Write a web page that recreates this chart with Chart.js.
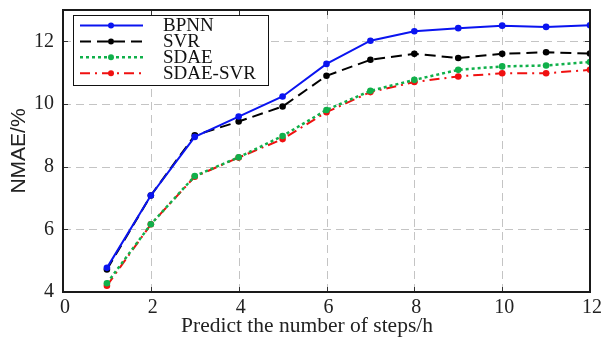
<!DOCTYPE html>
<html>
<head>
<meta charset="utf-8">
<script src="https://cdn.jsdelivr.net/npm/chart.js@4"></script>
<style>
  html, body { margin: 0; padding: 0; background: #fff; }
  #wrap { width: 604px; height: 339px; }
</style>
</head>
<body>
<div id="wrap"><canvas id="nmaeChart"></canvas></div>
<script>
const steps = [1, 2, 3, 4, 5, 6, 7, 8, 9, 10, 11, 12];
const bpnn = [4.77, 7.08, 8.95, 9.6, 10.24, 11.28, 12.02, 12.32, 12.42, 12.5, 12.46, 12.51];
const svr = [4.72, 7.08, 9.0, 9.44, 9.92, 10.9, 11.41, 11.6, 11.47, 11.6, 11.65, 11.61];
const sdae = [4.28, 6.16, 7.7, 8.3, 8.98, 9.81, 10.42, 10.77, 11.09, 11.2, 11.23, 11.34];
const sdaeSvr = [4.2, 6.16, 7.68, 8.29, 8.88, 9.74, 10.38, 10.7, 10.88, 10.98, 10.98, 11.09];
const xTicks = [0, 2, 4, 6, 8, 10, 12];
const yTicks = [4, 6, 8, 10, 12];
const xTitle = 'Predict the number of steps/h';

const toPoints = (ys) => ys.map((y, i) => ({ x: steps[i], y: y }));

// dashed grid under the lines
const gridPlugin = {
    id: 'dashGrid',
    beforeDatasetsDraw(chart) {
        const ctx = chart.ctx;
        const a = chart.chartArea;
        const xs = chart.scales.x, ys = chart.scales.y;
        ctx.save();
        ctx.strokeStyle = '#c4c4c4';
        ctx.lineWidth = 1;
        ctx.setLineDash([8, 5]);
        ctx.beginPath();
        xTicks.slice(1, -1).forEach(v => {
            const x = Math.round(xs.getPixelForValue(v)) + 0.5;
            ctx.moveTo(x, a.bottom); ctx.lineTo(x, a.top);
        });
        yTicks.slice(1).forEach(v => {
            const y = Math.round(ys.getPixelForValue(v)) + 0.5;
            ctx.moveTo(a.left, y); ctx.lineTo(a.right, y);
        });
        ctx.stroke();
        ctx.restore();
    }
};

// frame, inward ticks, x title and the boxed legend inside the plot
const framePlugin = {
    id: 'frame',
    afterDraw(chart) {
        const ctx = chart.ctx;
        const a = chart.chartArea;
        const xs = chart.scales.x, ys = chart.scales.y;
        ctx.save();
        ctx.strokeStyle = '#333';
        ctx.lineWidth = 1;
        ctx.setLineDash([]);
        ctx.beginPath();
        yTicks.forEach(v => {
            const y = Math.round(ys.getPixelForValue(v)) + 0.5;
            ctx.moveTo(a.left, y); ctx.lineTo(a.left + 5, y);
            ctx.moveTo(a.right, y); ctx.lineTo(a.right - 5, y);
        });
        xTicks.forEach(v => {
            const x = Math.round(xs.getPixelForValue(v)) + 0.5;
            ctx.moveTo(x, a.bottom); ctx.lineTo(x, a.bottom - 5);
            ctx.moveTo(x, a.top); ctx.lineTo(x, a.top + 5);
        });
        ctx.stroke();
        ctx.lineWidth = 2;
        ctx.strokeStyle = '#1a1a1a';
        ctx.strokeRect(a.left, a.top, a.right - a.left, a.bottom - a.top);

        // x axis title sits a little left of the plot centre in the original
        ctx.fillStyle = '#222';
        ctx.font = '21.5px "Liberation Serif", serif';
        ctx.textAlign = 'center';
        ctx.textBaseline = 'alphabetic';
        ctx.fillText(xTitle, 307, 332);
        ctx.textAlign = 'left';

        // legend
        const bx = a.left + 10, by = a.top + 5, bw = 195, bh = 70;
        ctx.fillStyle = '#fff';
        ctx.fillRect(bx, by, bw, bh);
        ctx.lineWidth = 1;
        ctx.strokeStyle = '#111';
        ctx.strokeRect(bx + 0.5, by + 0.5, bw, bh);
        ctx.font = '19px "Liberation Serif", serif';
        ctx.textBaseline = 'middle';
        chart.data.datasets.forEach((ds, i) => {
            const y = by + 10.5 + i * 15.9;
            ctx.strokeStyle = ds.borderColor;
            ctx.lineWidth = ds.borderWidth;
            ctx.setLineDash(ds.borderDash || []);
            ctx.beginPath();
            ctx.moveTo(bx + 7, y); ctx.lineTo(bx + 70, y);
            ctx.stroke();
            ctx.setLineDash([]);
            ctx.fillStyle = ds.pointBackgroundColor;
            ctx.beginPath();
            ctx.arc(bx + 38, y, 3, 0, Math.PI * 2);
            ctx.fill();
            ctx.fillStyle = '#111';
            ctx.fillText(ds.label, bx + 90, y + 1);
        });
        ctx.restore();
    }
};

const ctx = document.getElementById('nmaeChart').getContext('2d');
new Chart(ctx, {
    type: 'line',
    data: {
        datasets: [
            { label: 'BPNN', data: toPoints(bpnn), borderColor: '#0a14f0', pointBackgroundColor: '#0a14f0', borderWidth: 2 },
            { label: 'SVR', data: toPoints(svr), borderColor: '#000', pointBackgroundColor: '#000', borderWidth: 2, borderDash: [11, 6] },
            { label: 'SDAE', data: toPoints(sdae), borderColor: '#10b04a', pointBackgroundColor: '#10b04a', borderWidth: 2.5, borderDash: [3, 3] },
            { label: 'SDAE-SVR', data: toPoints(sdaeSvr), borderColor: '#f01010', pointBackgroundColor: '#f01010', borderWidth: 2, borderDash: [10, 5, 2, 5] }
        ].map(d => Object.assign(d, {
            pointRadius: 3.3, pointBorderWidth: 0, pointBorderColor: d.borderColor,
            fill: false, tension: 0
        }))
    },
    options: {
        responsive: true,
        maintainAspectRatio: false,
        animation: false,
        layout: { padding: { top: 10, right: 14, left: 0, bottom: 0 } },
        scales: {
            x: {
                type: 'linear', min: 0, max: 12,
                afterBuildTicks: (axis) => { axis.ticks = xTicks.map(v => ({ value: v })); },
                afterFit: (axis) => {
                    axis.height = 47;
                    axis.paddingLeft = 0;
                    axis.paddingRight = 0;
                },
                grid: { display: false, drawTicks: false },
                border: { display: false },
                ticks: { color: '#222', padding: 4, labelOffset: 2, maxRotation: 0, font: { family: '"Liberation Serif", serif', size: 20 } },
                title: { display: false }
            },
            y: {
                min: 4, max: 13,
                afterBuildTicks: (axis) => { axis.ticks = yTicks.map(v => ({ value: v })); },
                afterFit: (axis) => {
                    axis.width = 63;
                    axis.paddingTop = 0;
                    axis.paddingBottom = 0;
                },
                grid: { display: false, drawTicks: false },
                border: { display: false },
                ticks: { color: '#222', padding: 9, font: { family: '"Liberation Serif", serif', size: 20 } },
                title: { display: true, text: 'NMAE/%', color: '#222', padding: { top: 7, bottom: 0 }, font: { family: '"Liberation Sans", Arial, sans-serif', size: 21 } }
            }
        },
        plugins: {
            legend: { display: false },
            tooltip: { enabled: false }
        }
    },
    plugins: [gridPlugin, framePlugin]
});
</script>
</body>
</html>
